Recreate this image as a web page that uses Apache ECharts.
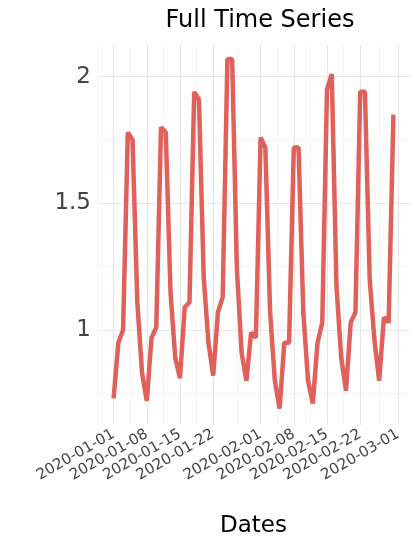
<!DOCTYPE html>
<html>
<head>
<meta charset="utf-8">
<script src="https://cdn.jsdelivr.net/npm/echarts@6/dist/echarts.min.js"></script>
<style>html,body{margin:0;padding:0;background:#fff}#chart{width:417px;height:547px}</style>
</head>
<body>
<div id="chart"></div>
<script>
// daily values starting 2020-01-01
var startDate = '2020-01-01'
var values = [0.73, 0.95, 1.00, 1.78, 1.75, 1.11, 0.83, 0.72, 0.97, 1.01,
  1.80, 1.78, 1.15, 0.89, 0.81, 1.09, 1.11, 1.94, 1.91, 1.21,
  0.95, 0.82, 1.07, 1.13, 2.07, 2.07, 1.24, 0.91, 0.80, 0.99,
  0.97, 1.76, 1.72, 1.07, 0.80, 0.69, 0.95, 0.95, 1.72, 1.72,
  1.07, 0.80, 0.71, 0.95, 1.03, 1.95, 2.01, 1.17, 0.89, 0.76,
  1.03, 1.07, 1.94, 1.94, 1.20, 0.96, 0.80, 1.05, 1.03, 1.85]
// tick days (offset from startDate): 01-01, 01-08, 01-15, 01-22, 02-01, 02-08, 02-15, 02-22, 03-01
var xTicks = [0, 7, 14, 21, 31, 38, 45, 52, 60]
var yLabels = [1, 1.5, 2]

var base = new Date(startDate + 'T00:00:00Z').getTime()
function dayLabel (d) {
  return new Date(base + d * 86400000).toISOString().slice(0, 10)
}

var gridLines = []
xTicks.forEach(function (t, i) {
  gridLines.push({ xAxis: t, lineStyle: { color: '#e6e6e6' } })
  if (i > 0) gridLines.push({ xAxis: (t + xTicks[i - 1]) / 2, lineStyle: { color: '#f4f4f4' } })
})
gridLines.push({ xAxis: -3.5, lineStyle: { color: '#f4f4f4' } })

var myChart = echarts.init(document.getElementById('chart'))
myChart.setOption({
  animation: false,
  title: {
    text: 'Full Time Series', left: 255, top: 4, textAlign: 'center',
    textStyle: { fontFamily: 'DejaVu Sans', fontSize: 24, fontWeight: 'normal', color: '#000' }
  },
  grid: { left: 97, right: 7, top: 45, bottom: 122 },
  xAxis: {
    type: 'value', min: -3.5, max: 62.5,
    name: 'Dates', nameLocation: 'middle', nameGap: 90,
    nameTextStyle: { fontFamily: 'DejaVu Sans', fontSize: 23, color: '#000' },
    axisLine: { show: false },
    axisTick: { show: false, customValues: xTicks },
    axisLabel: {
      rotate: 30, fontFamily: 'DejaVu Sans', fontSize: 15, color: '#444', margin: 8,
      customValues: xTicks,
      formatter: function (v) { return dayLabel(Math.round(v)) }
    },
    splitLine: { show: false }
  },
  yAxis: {
    type: 'value', min: 0.625, max: 2.125, interval: 0.125,
    axisLine: { show: false }, axisTick: { show: false },
    axisLabel: {
      fontFamily: 'DejaVu Sans', fontSize: 23, color: '#444', margin: 6,
      formatter: function (v) {
        return yLabels.some(function (y) { return Math.abs(y - v) < 1e-6 }) ? String(v) : ''
      }
    },
    splitLine: { show: true, lineStyle: { color: ['rgba(0,0,0,0)', '#f4f4f4', 'rgba(0,0,0,0)', '#e6e6e6'], width: 1 } }
  },
  series: [{
    type: 'line', showSymbol: false,
    data: values.map(function (v, i) { return [i, v] }),
    lineStyle: { color: '#e0605a', width: 4.5 },
    z: 3,
    markLine: {
      silent: true, symbol: 'none', label: { show: false },
      lineStyle: { type: 'solid', width: 1 },
      data: gridLines, z: 1
    }
  }]
})
</script>
</body>
</html>
